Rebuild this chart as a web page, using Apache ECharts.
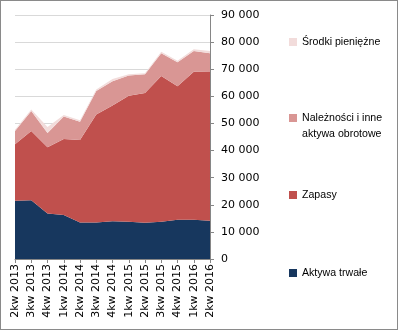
<!DOCTYPE html>
<html><head><meta charset="utf-8">
<script src="https://cdn.jsdelivr.net/npm/echarts@6/dist/echarts.min.js"></script>
<style>
html,body{margin:0;padding:0;background:#fff;}
#c{width:398px;height:330px;box-sizing:border-box;border:1px solid #8a8a8a;}
</style></head><body>
<div id="c"></div>
<script>
const categories = ['2kw 2013','3kw 2013','4kw 2013','1kw 2014','2kw 2014','3kw 2014','4kw 2014','1kw 2015','2kw 2015','3kw 2015','4kw 2015','1kw 2016','2kw 2016'];
const aktywaTrwale = [21500, 21700, 16800, 16200, 13500, 13500, 13900, 13700, 13400, 13700, 14500, 14500, 14100];
const zapasy = [20800, 25500, 24400, 28100, 30400, 39800, 42700, 46500, 47800, 53800, 49200, 54600, 54900];
const naleznosci = [4900, 7400, 5300, 8300, 6700, 8700, 9000, 7500, 6900, 8400, 8900, 7600, 6900];
const srodki = [500, 500, 2200, 500, 600, 500, 800, 400, 400, 500, 500, 700, 800];
const yTicks = {min: 0, max: 90000, interval: 10000};

const names = ['Aktywa trwałe', 'Zapasy', 'Należności i inne aktywa obrotowe', 'Środki pieniężne'];
const colors = ['#17375E', '#C0504D', '#D99694', '#F2DCDB'];
const datas = [aktywaTrwale, zapasy, naleznosci, srodki];

const chart = echarts.init(document.getElementById('c'));
const axisFont = {fontFamily: 'DejaVu Sans', fontSize: 11, color: '#000'};
const legendText = {fontFamily: 'Liberation Sans', fontSize: 10.6, color: '#000', lineHeight: 16};
function mkLegend(name, top, twoLine) {
  return {
    data: [name], left: 283, top: top, orient: 'vertical',
    itemWidth: 8, itemHeight: twoLine ? 24 : 8,
    icon: twoLine ? 'path://M0,0L8,0L8,8L0,8Z M0,24L0.01,24' : 'rect', itemGap: 5,
    textStyle: legendText, selectedMode: false,
    formatter: function (n) { return n === names[2] ? 'Należności i inne\naktywa obrotowe' : n; }
  };
}
chart.setOption({
  animation: false,
  grid: {left: 14, right: 187, top: 14, bottom: 70},
  legend: [mkLegend(names[3], 28), mkLegend(names[2], 104, true), mkLegend(names[1], 181), mkLegend(names[0], 259)],
  xAxis: {
    type: 'category', data: categories, boundaryGap: false,
    axisLine: {lineStyle: {color: '#868686', width: 1}},
    axisTick: {show: true, length: 4, lineStyle: {color: '#868686'}},
    axisLabel: Object.assign({rotate: 90, margin: 5, interval: 0}, axisFont),
    splitLine: {show: false}
  },
  yAxis: {
    type: 'value', position: 'right', min: yTicks.min, max: yTicks.max, interval: yTicks.interval,
    axisLine: {show: true, lineStyle: {color: '#868686', width: 1}},
    axisTick: {show: true, length: 4, lineStyle: {color: '#868686'}},
    axisLabel: Object.assign({margin: 11, formatter: function (v) {
      return String(v).replace(/\B(?=(\d{3})+(?!\d))/g, ' ');
    }}, axisFont),
    splitLine: {show: true, lineStyle: {color: '#D9D9D9', width: 1}}
  },
  series: datas.map(function (d, i) {
    return {
      name: names[i], type: 'line', stack: 'total', data: d,
      symbol: 'none', showSymbol: false,
      lineStyle: {width: 0, color: colors[i]},
      itemStyle: {color: colors[i]},
      areaStyle: {color: colors[i], opacity: 1}
    };
  })
});
</script>
</body></html>
